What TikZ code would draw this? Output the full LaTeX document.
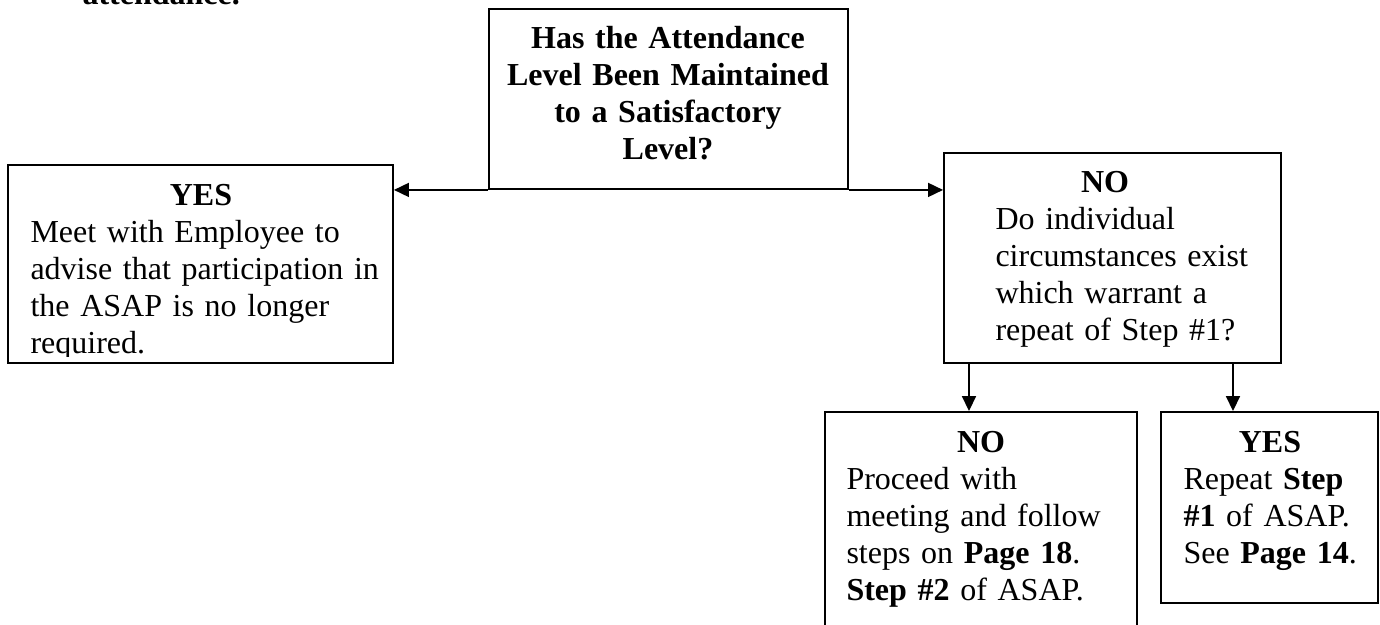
\documentclass[tikz,border=0pt]{standalone}
\usepackage{fontspec}
\setmainfont{Liberation Serif}
\usetikzlibrary{arrows.meta,fit}

\tikzset{
	box/.style={draw,line width=0.7pt,inner sep=0pt},
	head/.style={anchor=base,inner sep=0pt,font=\fontsize{12}{13.875}\selectfont\bfseries},
	body/.style={anchor=base west,align=left,inner sep=0pt,font=\fontsize{12}{13.875}\selectfont},
	arr/.style={line width=0.7pt,-{Triangle[length=5.6pt,width=5.2pt]}}
}

\begin{document}
\begin{tikzpicture}[x=0.375pt,y=-0.375pt]
		\useasboundingbox (0,0) rectangle (1380,625);
		\node [head,anchor=base west] (title) at (82,4) {attendance.};

		% boxes
		\node [box,fit={(489,9) (848,189)}] (quest) {};
		\node [box,fit={(8,165) (393,363)}] (yesbox) {};
		\node [box,fit={(944,153) (1281,363)}] (nobox) {};
		\node [box,fit={(825,412) (1137,660)}] (proceedbox) {};
		\node [box,fit={(1161,412) (1378,603)}] (repeatbox) {};

		% texts
		\node [head,align=center,text width=130pt] (questtext) at (668,48)
			{Has the Attendance\\Level Been Maintained\\to a Satisfactory\\Level?};
		\node [head] (yeshead) at (201,205) {YES};
		\begin{scope}
			\clip (8,165) rectangle (393,356);
			\node [body,text width=135pt] (yestext) at (30,242)
				{Meet with Employee to\\advise that participation in\\the ASAP is no longer\\required.};
		\end{scope}
		\node [head] (nohead) at (1105,192) {NO};
		\node [body,text width=100pt] (notext) at (995,229)
			{Do individual\\circumstances exist\\which warrant a\\repeat of Step \#1?};
		\node [head] (proceedhead) at (981,452) {NO};
		\node [body,text width=100pt] (proceedtext) at (846,489)
			{Proceed with\\meeting and follow\\steps on \textbf{Page 18}.\\\textbf{Step \#2} of ASAP.};
		\node [head] (repeathead) at (1270,452) {YES};
		\node [body,text width=70pt] (repeattext) at (1183,489)
			{Repeat \textbf{Step}\\\textbf{\#1} of ASAP.\\See \textbf{Page 14}.};

		% connectors
		\draw [arr] (quest.south west) -- (quest.south west -| yesbox.east);
		\draw [arr] (quest.south east) -- (quest.south east -| nobox.west);
		\coordinate (splitno) at (969,363);
		\coordinate (splityes) at (1233,363);
		\draw [arr] (splitno) -- (splitno |- proceedbox.north);
		\draw [arr] (splityes) -- (splityes |- repeatbox.north);
\end{tikzpicture}
\end{document}
